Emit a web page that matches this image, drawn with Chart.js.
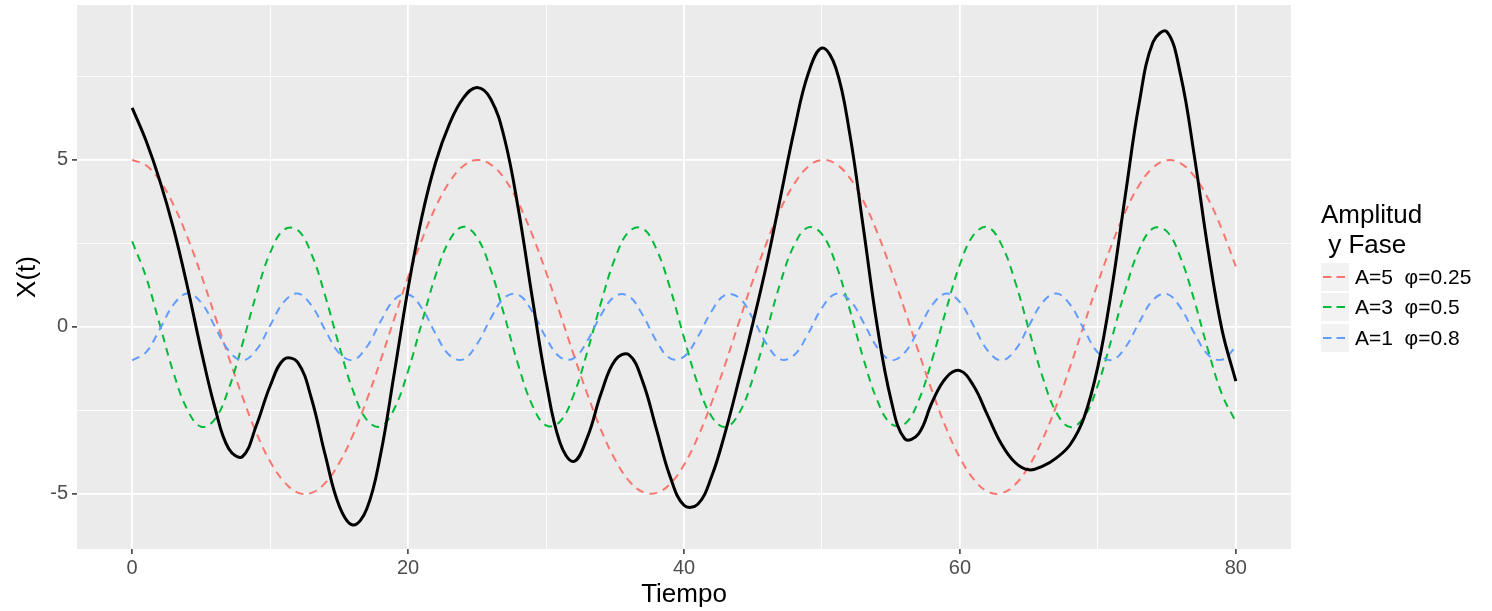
<!DOCTYPE html>
<html>
<head>
<meta charset="utf-8">
<script src="https://cdn.jsdelivr.net/npm/chart.js@4.4.1/dist/chart.umd.min.js"></script>
<style>
body { margin: 0; background: #fff; }
#wrap { position: relative; width: 1492px; height: 611px; font-family: "Liberation Sans", Arial, sans-serif; }
#leyenda { position: absolute; left: 1321px; top: 199px; color: #000; }
#leyenda .titulo { font-size: 26px; line-height: 30px; white-space: pre; }
#leyenda .fila { position: absolute; left: 0; height: 28px; white-space: pre; }
#leyenda .clave { position: absolute; left: 0; top: 0; width: 28px; height: 28px; background: #F2F2F2; }
#leyenda .texto { position: absolute; left: 34px; top: 0; font-size: 21px; line-height: 28px; color: #000; }
</style>
</head>
<body>
<div id="wrap">
<canvas id="myChart"></canvas>
<div id="leyenda"></div>
</div>
<script type="text/javascript">

// tiempo (eje x)
var tiempo = [
 0, 1, 2, 3, 4, 5, 6, 7, 8, 9,
 10,11,12,13,14,15,16,17,18,19,
 20,21,22,23,24,25,26,27,28,29,
 30,31,32,33,34,35,36,37,38,39,
 40,41,42,43,44,45,46,47,48,49,
 50,51,52,53,54,55,56,57,58,59,
 60,61,62,63,64,65,66,67,68,69,
 70,71,72,73,74,75,76,77,78,79,
 80];

// A=5
var serieA5 = [
 5.00, 4.84, 4.38, 3.65, 2.69, 1.56, 0.33,-0.91,-2.10,-3.17,
 -4.03,-4.63,-4.96,-4.97,-4.67,-4.08,-3.24,-2.19,-1.01, 0.25,
 1.49, 2.61, 3.59, 4.34, 4.82, 5.00, 4.86, 4.43, 3.71, 2.76,
 1.64, 0.42,-0.83,-2.02,-3.10,-3.97,-4.60,-4.94,-4.97,-4.70,
 -4.13,-3.30,-2.27,-1.10, 0.16, 1.40, 2.53, 3.53, 4.29, 4.80,
 5.00, 4.88, 4.47, 3.77, 2.84, 1.72, 0.51,-0.74,-1.94,-3.03,
 -3.92,-4.56,-4.93,-4.98,-4.72,-4.17,-3.36,-2.35,-1.18, 0.07,
 1.32, 2.46, 3.46, 4.25, 4.77, 4.99, 4.90, 4.51, 3.83, 2.91,
 1.81];

// A=3
var serieA3 = [
 2.56, 1.50, 0.07,-1.38,-2.48,-2.99,-2.76,-1.85,-0.50, 0.98,
 2.22, 2.91, 2.90, 2.18, 0.92,-0.56,-1.90,-2.78,-2.98,-2.45,
 -1.32, 0.13, 1.55, 2.59, 3.00, 2.68, 1.70, 0.31,-1.16,-2.34,
 -2.95,-2.84,-2.04,-0.73, 0.75, 2.05, 2.85, 2.95, 2.33, 1.15,
 -0.32,-1.71,-2.68,-3.00,-2.58,-1.53,-0.11, 1.34, 2.46, 2.98,
 2.78, 1.89, 0.54,-0.94,-2.19,-2.90,-2.91,-2.21,-0.96, 0.51,
 1.87, 2.76, 2.99, 2.48, 1.36,-0.08,-1.51,-2.57,-3.00,-2.70,
 -1.74,-0.35, 1.12, 2.32, 2.95, 2.86, 2.07, 0.78,-0.71,-2.02,
 -2.84];

// A=1
var serieA1 = [
 -1.00,-0.76,-0.07, 0.67, 1.00, 0.73, 0.01,-0.71,-1.00,-0.69,
 0.04, 0.75, 1.00, 0.64,-0.10,-0.78,-0.99,-0.60, 0.16, 0.82,
 0.98, 0.56,-0.21,-0.85,-0.97,-0.51, 0.26, 0.88, 0.96, 0.46,
 -0.32,-0.90,-0.94,-0.41, 0.37, 0.92, 0.92, 0.36,-0.42,-0.94,
 -0.89,-0.30, 0.47, 0.96, 0.87, 0.25,-0.52,-0.97,-0.84,-0.20,
 0.57, 0.99, 0.81, 0.14,-0.61,-0.99,-0.77,-0.08, 0.66, 1.00,
 0.74, 0.03,-0.70,-1.00,-0.70, 0.03, 0.74, 1.00, 0.66,-0.08,
 -0.77,-0.99,-0.61, 0.14, 0.81, 0.99, 0.57,-0.19,-0.84,-0.98,
 -0.60];

// X(t) total (linea negra)
var serieTotal = [
 6.56, 5.58, 4.38, 2.94, 1.21,-0.70,-2.42,-3.65,-3.88,-2.95,
 -1.77,-0.97,-1.06,-2.15,-3.85,-5.35,-5.93,-5.45,-3.83,-1.38,
 1.15, 3.30, 4.93, 6.08, 6.85, 7.17, 6.82, 5.62, 3.51, 0.88,
 -1.63,-3.45,-4.03,-3.30,-1.98,-1.00,-0.83,-1.63,-3.06,-4.49,
 -5.34,-5.31,-4.48,-3.14,-1.55, 0.12, 1.90, 3.90, 5.91, 7.58,
 8.35, 7.76, 5.82, 2.97, 0.04,-2.17,-3.35,-3.20,-2.24,-1.52,
 -1.31,-1.77,-2.64,-3.50,-4.06,-4.28,-4.17,-3.92,-3.52,-2.71,
 -1.19, 1.12, 3.97, 6.71, 8.53, 8.84, 7.54, 5.10, 2.28,-0.09,
 -1.62];

var xTicks = [0, 10, 20, 30, 40, 50, 60, 70, 80];
var yTicks = [-5, -2.5, 0, 2.5, 5, 7.5];
var etiquetas = ["A=5  φ=0.25", "A=3  φ=0.5", "A=1  φ=0.8"];
var colores = ["#F8766D", "#00BA38", "#619CFF"];

function pares(ys){
	return tiempo.map(function(t, i){ return {x: t, y: ys[i]}; });
}

var fondoPanel = {
	id: 'fondoPanel',
	beforeDraw: function(chart){
		var a = chart.chartArea, ctx = chart.ctx;
		ctx.save();
		ctx.fillStyle = '#EBEBEB';
		ctx.fillRect(a.left, a.top, a.right - a.left, a.bottom - a.top);
		ctx.restore();
	}
};

var fuente = "'Liberation Sans', Arial, sans-serif";

function lineaSerie(i, ys, orden){
	return {
		label: etiquetas[i],
		data: pares(ys),
		borderColor: colores[i],
		borderWidth: 2,
		borderDash: [8, 6],
		tension: 0.4,
		pointRadius: 0,
		fill: false,
		order: orden
	};
}

new Chart("myChart", {
	type: "line",
	data: {
		datasets: [
			{ label: "X(t)", data: pares(serieTotal), borderColor: "#000000", borderWidth: 3,
			  tension: 0.4, pointRadius: 0, fill: false, order: 0 },
			lineaSerie(2, serieA1, 1),
			lineaSerie(1, serieA3, 2),
			lineaSerie(0, serieA5, 3)
		]
	},
	options: {
		responsive: true,
		maintainAspectRatio: false,
		animation: false,
		layout: { padding: { top: 5, right: 201, left: 0, bottom: 0 } },
		plugins: { legend: { display: false }, tooltip: { enabled: false } },
		scales: {
			x: {
				type: 'linear',
				min: -4, max: 84,
				afterBuildTicks: function(s){ s.ticks = xTicks.map(function(v){ return {value: v}; }); },
				afterFit: function(s){ s.height = 62; s.paddingLeft = 0; s.paddingRight = 0; },
				border: { display: false },
				grid: {
					color: '#FFFFFF',
					lineWidth: function(c){ return c.tick && c.tick.value % 20 === 0 ? 1.8 : 0.9; },
					tickColor: function(c){ return c.tick && c.tick.value % 20 === 0 ? '#333333' : 'rgba(0,0,0,0)'; },
					tickWidth: 1.5,
					tickLength: 5
				},
				ticks: {
					autoSkip: false, maxRotation: 0, padding: 2,
					color: '#4D4D4D',
					font: { family: fuente, size: 20 },
					callback: function(v){ return v % 20 === 0 ? String(v) : ''; }
				},
				title: {
					display: true, text: 'Tiempo', color: '#000000',
					font: { family: fuente, size: 26 },
					padding: { top: 0, bottom: 1 }
				}
			},
			y: {
				type: 'linear',
				min: -6.65, max: 9.64,
				afterBuildTicks: function(s){ s.ticks = yTicks.map(function(v){ return {value: v}; }); },
				afterFit: function(s){ s.width = 77; s.paddingTop = 0; s.paddingBottom = 0; },
				border: { display: false },
				grid: {
					color: '#FFFFFF',
					lineWidth: function(c){ return c.tick && c.tick.value % 5 === 0 ? 1.8 : 0.9; },
					tickColor: function(c){ return c.tick && c.tick.value % 5 === 0 ? '#333333' : 'rgba(0,0,0,0)'; },
					tickWidth: 1.5,
					tickLength: 5
				},
				ticks: {
					autoSkip: false, padding: 4,
					color: '#4D4D4D',
					font: { family: fuente, size: 20 },
					callback: function(v){ return v % 5 === 0 ? String(v) : ''; }
				},
				title: {
					display: true, text: 'X(t)', color: '#000000',
					font: { family: fuente, size: 26 },
					padding: { top: 12, bottom: 0 }
				}
			}
		}
	},
	plugins: [fondoPanel]
});

// leyenda
function buildLegend(){
	var html = '<div class="titulo">Amplitud\n y Fase</div>';
	var tops = [64, 94.3, 124.6];
	for (var i = 0; i < etiquetas.length; i++){
		html += '<div class="fila" style="top:' + tops[i] + 'px">' +
			'<div class="clave"><svg width="28" height="28"><line x1="2" y1="14" x2="26" y2="14" stroke="' + colores[i] +
			'" stroke-width="2" stroke-dasharray="8.5 5"/></svg></div>' +
			'<div class="texto">' + etiquetas[i] + '</div></div>';
	}
	document.getElementById("leyenda").innerHTML = html;
}
buildLegend();
</script>
</body>
</html>
